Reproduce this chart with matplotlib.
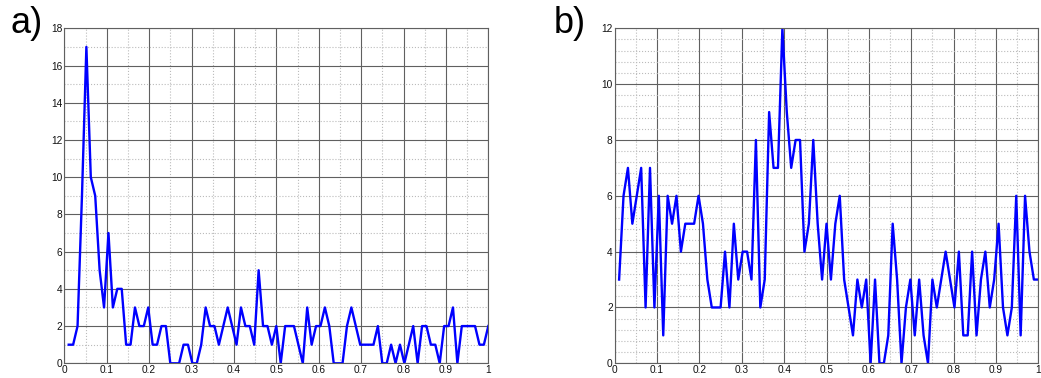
import numpy as np
import matplotlib
matplotlib.use("Agg")
import matplotlib.pyplot as plt
from matplotlib.ticker import MultipleLocator

# ---- data ----
n_points = 96
x_vals = np.arange(1, n_points + 1) / n_points

series_a = [1, 1, 2, 9, 17, 10, 9, 5, 3, 7,
            3, 4, 4, 1, 1, 3, 2, 2, 3, 1,
            1, 2, 2, 0, 0, 0, 1, 1, 0, 0,
            1, 3, 2, 2, 1, 2, 3, 2, 1, 3,
            2, 2, 1, 5, 2, 2, 1, 2, 0, 2,
            2, 2, 1, 0, 3, 1, 2, 2, 3, 2,
            0, 0, 0, 2, 3, 2, 1, 1, 1, 1,
            2, 0, 0, 1, 0, 1, 0, 1, 2, 0,
            2, 2, 1, 1, 0, 2, 2, 3, 0, 2,
            2, 2, 2, 1, 1, 2]

series_b = [3, 6, 7, 5, 6, 7, 2, 7, 2, 6,
            1, 6, 5, 6, 4, 5, 5, 5, 6, 5,
            3, 2, 2, 2, 4, 2, 5, 3, 4, 4,
            3, 8, 2, 3, 9, 7, 7, 12, 9, 7,
            8, 8, 4, 5, 8, 5, 3, 5, 3, 5,
            6, 3, 2, 1, 3, 2, 3, 0, 3, 0,
            0, 1, 5, 3, 0, 2, 3, 1, 3, 1,
            0, 3, 2, 3, 4, 3, 2, 4, 1, 1,
            4, 1, 3, 4, 2, 3, 5, 2, 1, 2,
            6, 1, 6, 4, 3, 3]

x_ticks = [0, 0.1, 0.2, 0.3, 0.4, 0.5, 0.6, 0.7, 0.8, 0.9, 1]
x_tick_labels = ["0", "0.1", "0.2", "0.3", "0.4", "0.5", "0.6", "0.7", "0.8", "0.9", "1"]
y_ticks_a = [0, 2, 4, 6, 8, 10, 12, 14, 16, 18]
y_ticks_b = [0, 2, 4, 6, 8, 10, 12]
panel_labels = ["a)", "b)"]

plt.rcParams['font.family'] = ['Liberation Sans', 'DejaVu Sans']

fig = plt.figure(figsize=(10.41, 3.78), dpi=100)
ax_a = fig.add_axes([64.3 / 1041, 14.7 / 378, 424 / 1041, 335 / 378])
ax_b = fig.add_axes([614.7 / 1041, 14.7 / 378, 423.6 / 1041, 335 / 378])


def style(ax, yticks, yminor):
    ax.set_xlim(0, 1)
    ax.set_ylim(yticks[0], yticks[-1])
    ax.set_xticks(x_ticks)
    ax.set_xticklabels(x_tick_labels)
    ax.set_yticks(yticks)
    ax.set_yticklabels([str(t) for t in yticks])
    ax.xaxis.set_minor_locator(MultipleLocator(0.05))
    ax.yaxis.set_minor_locator(MultipleLocator(yminor))
    ax.grid(which='major', color='#606060', linestyle='-', linewidth=0.8)
    ax.grid(which='minor', color='#bbbbbb', linestyle=':', linewidth=0.8)
    ax.set_axisbelow(True)
    ax.tick_params(which='both', direction='in', length=0, pad=1.5,
                   labelsize=7.3, colors='#111111')
    for s in ax.spines.values():
        s.set_color('#606060')
        s.set_linewidth(0.8)


ax_a.plot(x_vals, series_a, color='#0000ff', linewidth=1.7)
style(ax_a, y_ticks_a, 1)
ax_b.plot(x_vals, series_b, color='#0000ff', linewidth=1.7)
style(ax_b, y_ticks_b, 0.4)

fig.text(10 / 1041, 1 - 6 / 378, panel_labels[0], fontsize=26, va='top', ha='left')
fig.text(554 / 1041, 1 - 6 / 378, panel_labels[1], fontsize=26, va='top', ha='left')

fig.savefig("out.png", dpi=100)
